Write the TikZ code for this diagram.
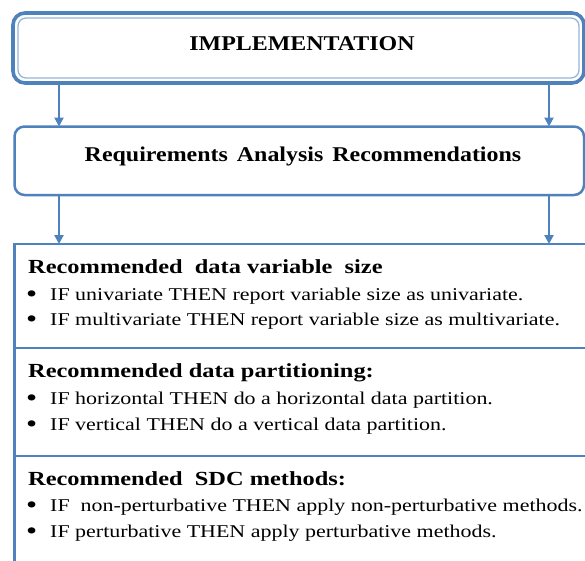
\documentclass[tikz,border=0pt]{standalone}
\usepackage{fontspec}
\setmainfont{Liberation Serif}[FakeStretch=1.22]
\newfontfamily\titlefont{Liberation Serif}[FakeStretch=1.14]
\usetikzlibrary{arrows.meta}
\definecolor{flowblue}{HTML}{4F81BD}
\definecolor{flowpale}{HTML}{95B3D7}

\begin{document}
\begin{tikzpicture}[x=1pt,y=-1pt,
  box/.style={draw=flowblue, line width=2.5pt, outer sep=0pt, inner sep=0pt},
  link/.style={draw=flowblue, line width=2.4pt, -{Triangle[length=9pt,width=9pt]}},
  title/.style={font=\titlefont\fontsize{21}{24}\selectfont\bfseries, anchor=base, inner sep=0pt},
  head/.style={font=\fontsize{20}{24}\selectfont\bfseries, anchor=base west, inner sep=0pt},
  item/.style={font=\fontsize{18}{20}\selectfont, anchor=base west, inner sep=0pt},
  bul/.style={font=\fontsize{26}{26}\selectfont, anchor=base west, inner sep=0pt}
]
\useasboundingbox (0,0) rectangle (585,560);

% column positions of the two connector lanes
\coordinate (lx) at (59,0);
\coordinate (rx) at (549,0);

% top box with a double frame
\node[box, line width=3.6pt, rounded corners=12pt, minimum width=571pt, minimum height=70pt]
  (impl) at (298.5,48) {};
\draw[flowpale, line width=1.3pt, rounded corners=8pt]
  ([shift={(5,5)}]impl.north west) rectangle ([shift={(-5,-5)}]impl.south east);
\node[title] (implt) at (302,50) {IMPLEMENTATION};

% second box
\node[box, rounded corners=10pt, minimum width=569.5pt, minimum height=68.5pt]
  (req) at (299.25,160.75) {};
\node[title] (reqt) at (303,161)
  {Requirements\hspace{9pt}Analysis\hspace{9pt}Recommendations};

% recommendations panel
\node[box, minimum width=575.5pt, minimum height=331pt] (rec) at (302.25,409.5) {};
\coordinate (d1) at (0,348);
\coordinate (d2) at (0,456);
\draw[box] (rec.west |- d1) -- (rec.east |- d1);
\draw[box] (rec.west |- d2) -- (rec.east |- d2);

% connectors
\draw[link] (impl.south -| lx) -- (req.north -| lx);
\draw[link] (impl.south -| rx) -- (req.north -| rx);
\draw[link] (req.south -| lx) -- (rec.north -| lx);
\draw[link] (req.south -| rx) -- (rec.north -| rx);

% section 1
\node[head] (h1) at (28,273) {Recommended\ \ data variable\ \ size};
\node[bul] (b11) at (26,300) {\raisebox{-2.6pt}{•}};
\node[item] (t11) at (50,300) {IF univariate THEN report variable size as univariate.};
\node[bul] (b12) at (26,325) {\raisebox{-2.6pt}{•}};
\node[item] (t12) at (50,325) {IF multivariate THEN report variable size as multivariate.};

% section 2
\node[head] (h2) at (28,377) {Recommended data partitioning:};
\node[bul] (b21) at (26,404) {\raisebox{-2.6pt}{•}};
\node[item] (t21) at (50,404) {IF horizontal THEN do a horizontal data partition.};
\node[bul] (b22) at (26,430) {\raisebox{-2.6pt}{•}};
\node[item] (t22) at (50,430) {IF vertical THEN do a vertical data partition.};

% section 3
\node[head] (h3) at (28,485) {Recommended\ \ SDC methods:};
\node[bul] (b31) at (26,511) {\raisebox{-2.6pt}{•}};
\node[item] (t31) at (50,511) {IF\ \ non-perturbative THEN apply non-perturbative methods.};
\node[bul] (b32) at (26,537) {\raisebox{-2.6pt}{•}};
\node[item] (t32) at (50,537) {IF perturbative THEN apply perturbative methods.};
\end{tikzpicture}
\end{document}
